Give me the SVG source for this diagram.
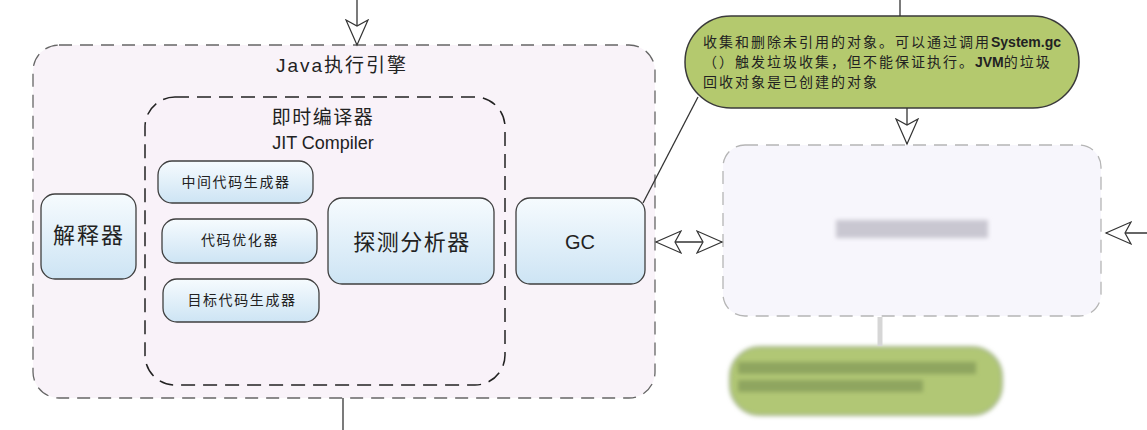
<svg xmlns="http://www.w3.org/2000/svg" width="1147" height="430" viewBox="0 0 1147 430">
  <style>
    .cjk { font-family: "Liberation Sans", "Noto Sans CJK SC", sans-serif; fill: #222; }
    .node { fill: url(#nodeGrad); stroke: #3f3f3f; stroke-width: 1.3; }
    .conn { stroke: #333; stroke-width: 1.3; fill: none; }
    .small { font-size: 14px; letter-spacing: 1.6px; }
  </style>
  <defs>
    <linearGradient id="nodeGrad" x1="0" y1="0" x2="0" y2="1">
      <stop offset="0" stop-color="#f6fbfe"/>
      <stop offset="1" stop-color="#cde4f4"/>
    </linearGradient>
    <marker id="arrow" viewBox="-26 -13 28 26" refX="0" refY="0" markerWidth="28" markerHeight="26" markerUnits="userSpaceOnUse" orient="auto-start-reverse">
      <path d="M0,0 L-25,-11 L-19,0 L-25,11 Z" fill="#fff" stroke="#333" stroke-width="1.2" stroke-linejoin="miter"/>
    </marker>
    <filter id="blur" x="-10%" y="-30%" width="120%" height="160%">
      <feGaussianBlur stdDeviation="2"/>
    </filter>
  </defs>

  <rect width="1147" height="430" fill="#ffffff"/>

  <g id="java-engine">
    <rect x="33" y="45" width="622" height="353" rx="26" fill="#f9f3f9" stroke="#666" stroke-width="1.3" stroke-dasharray="13 8"/>
    <text class="cjk" x="342" y="65" font-size="19" letter-spacing="2" text-anchor="middle" dominant-baseline="central">Java执行引擎</text>
  </g>

  <g id="jit-compiler">
    <rect x="145" y="97" width="360" height="288" rx="30" fill="#f9f2f9" stroke="#222" stroke-width="1.5" stroke-dasharray="14 8"/>
    <text class="cjk" x="323" y="117" font-size="19" letter-spacing="1.5" text-anchor="middle" dominant-baseline="central">即时编译器</text>
    <text class="cjk" x="323" y="143" font-size="18" text-anchor="middle" dominant-baseline="central">JIT Compiler</text>
  </g>

  <g id="interpreter">
    <rect class="node" x="41" y="194" width="95" height="85" rx="14"/>
    <text class="cjk" x="89" y="235" font-size="22" letter-spacing="2" text-anchor="middle" dominant-baseline="central">解释器</text>
  </g>

  <g id="ir-generator">
    <rect class="node" x="158" y="161" width="155" height="42" rx="14"/>
    <text class="cjk small" x="236" y="182" text-anchor="middle" dominant-baseline="central">中间代码生成器</text>
  </g>

  <g id="code-optimizer">
    <rect class="node" x="162" y="219" width="155" height="44" rx="14"/>
    <text class="cjk small" x="240" y="240" text-anchor="middle" dominant-baseline="central">代码优化器</text>
  </g>

  <g id="target-generator">
    <rect class="node" x="163" y="279" width="156" height="43" rx="14"/>
    <text class="cjk small" x="242" y="300" text-anchor="middle" dominant-baseline="central">目标代码生成器</text>
  </g>

  <g id="profiler">
    <rect class="node" x="328" y="198" width="166" height="86" rx="14"/>
    <text class="cjk" x="412" y="242" font-size="22" letter-spacing="1.5" text-anchor="middle" dominant-baseline="central">探测分析器</text>
  </g>

  <g id="gc">
    <rect class="node" x="516" y="198" width="129" height="86" rx="14"/>
    <text class="cjk" x="580" y="242" font-size="20" text-anchor="middle" dominant-baseline="central">GC</text>
  </g>

  <g id="gc-note">
    <rect x="685" y="16" width="394" height="92" rx="46" fill="#b4c96e" stroke="#3a3a3a" stroke-width="1.5"/>
    <text class="cjk" font-size="14" letter-spacing="2" fill="#1a1a1a">
      <tspan x="703" y="47">收集和删除未引用的对象。可以通过调用<tspan font-weight="bold" letter-spacing="0">System.gc</tspan></tspan>
      <tspan x="703" y="67">（）触发垃圾收集，但不能保证执行。<tspan font-weight="bold" letter-spacing="0">JVM</tspan>的垃圾</tspan>
      <tspan x="703" y="87">回收对象是已创建的对象</tspan>
    </text>
  </g>

  <g id="heap-area">
    <rect x="723" y="145" width="378" height="171" rx="22" fill="#f7f6fc" stroke="#b5b5b5" stroke-width="1.3" stroke-dasharray="13 8"/>
    <rect x="836" y="220" width="152" height="18" fill="#c9c7d1" filter="url(#blur)"/>
  </g>

  <g id="blurred-note">
    <rect x="730" y="347" width="272" height="68" rx="30" fill="#b1c774" stroke="#a3b38a" stroke-width="2" filter="url(#blur)"/>
    <rect x="738" y="362" width="238" height="12" fill="#8fa55e" filter="url(#blur)"/>
    <rect x="738" y="380" width="185" height="12" fill="#8fa55e" filter="url(#blur)"/>
  </g>

  <g id="connectors">
    <line class="conn" x1="357" y1="0" x2="357" y2="45" marker-end="url(#arrow)"/>
    <line class="conn" x1="343" y1="398" x2="343" y2="430"/>
    <line class="conn" x1="900" y1="0" x2="900" y2="16"/>
    <line class="conn" x1="698" y1="97" x2="643" y2="203"/>
    <line class="conn" x1="907" y1="108" x2="907" y2="144" marker-end="url(#arrow)"/>
    <line class="conn" x1="656" y1="242" x2="722" y2="242" marker-start="url(#arrow)" marker-end="url(#arrow)"/>
    <line class="conn" x1="1147" y1="233" x2="1106" y2="233" marker-end="url(#arrow)"/>
    <line x1="880" y1="317" x2="880" y2="346" stroke="#d6d6d6" stroke-width="5"/>
  </g>
</svg>
